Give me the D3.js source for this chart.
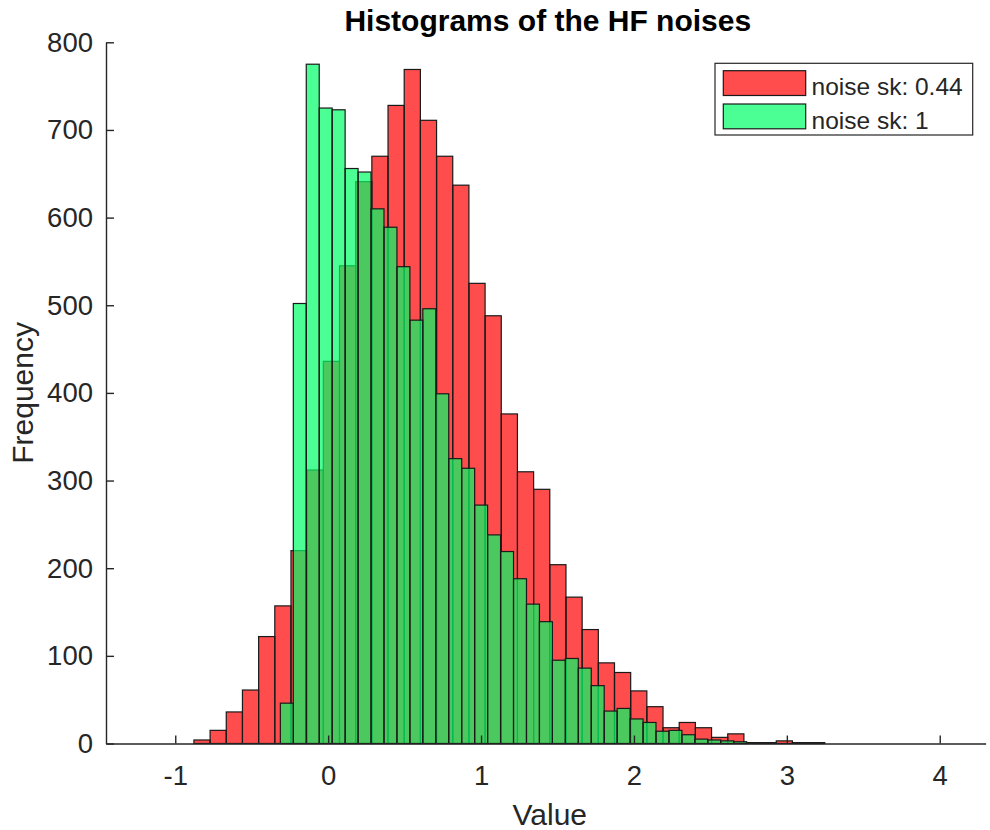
<!DOCTYPE html>
<html>
<head>
<meta charset="utf-8">
<script src="https://cdn.jsdelivr.net/npm/d3@7/dist/d3.min.js"></script>
<style>
  html, body { margin: 0; padding: 0; background: #fff; }
  svg { display: block; font-family: "Liberation Sans", Arial, Helvetica, sans-serif; }
</style>
</head>
<body>
<svg id="chart" width="990" height="830"></svg>
<script>
// Histogram of noise with skewness 0.44 (red) — uniform bins
const redBinStart = -0.878;
const redBinWidth = 0.1058;
const redCounts = [4, 15, 36, 61, 122, 157, 220, 312, 436, 545, 641, 670, 728, 769, 711,
  670, 637, 525, 488, 376, 310, 290, 204, 167, 130, 92, 81, 60, 42, 18, 24, 18, 7, 11,
  1, 1, 3, 1, 1];

// Histogram of noise with skewness 1 (green)
const greenBinStart = -0.3126;
const greenBinWidth = 0.08472;
const greenCounts = [46, 502, 775, 725, 723, 656, 652, 610, 589, 544, 483, 496, 399, 325,
  314, 272, 238, 219, 188, 159, 139, 95, 97, 86, 66, 37, 40, 28, 24, 14, 15, 10, 5, 4, 3, 2];

const seriesNames = ["noise sk: 0.44", "noise sk: 1"];
const xTicks = [-1, 0, 1, 2, 3, 4];
const yTicks = [0, 100, 200, 300, 400, 500, 600, 700, 800];
const xDomain = [-1.453, 4.3];
const yDomain = [0, 800];

const svg = d3.select("#chart");
const plot = { left: 106, right: 985.6, top: 42.3, bottom: 743.5 };
const axisColor = "#262626";

const x = d3.scaleLinear().domain(xDomain).range([plot.left, plot.right]);
const y = d3.scaleLinear().domain(yDomain).range([plot.bottom, plot.top]);

function bins(start, width, counts) {
  return counts.map((c, i) => ({ x0: start + i * width, x1: start + (i + 1) * width, count: c }));
}

const series = [
  { name: seriesNames[0], color: "rgb(255,0,0)", data: bins(redBinStart, redBinWidth, redCounts) },
  { name: seriesNames[1], color: "rgb(0,255,102)", data: bins(greenBinStart, greenBinWidth, greenCounts) }
];
const faceAlpha = 0.7;

const barsG = svg.append("g");
series.forEach(s => {
  const g = barsG.append("g");
  // faces
  g.append("g").selectAll("rect").data(s.data).join("rect")
    .attr("x", d => x(d.x0))
    .attr("y", d => y(d.count))
    .attr("width", d => x(d.x1) - x(d.x0))
    .attr("height", d => y(0) - y(d.count))
    .attr("fill", s.color)
    .attr("fill-opacity", faceAlpha);
  // edges
  g.append("g").selectAll("rect").data(s.data).join("rect")
    .attr("x", d => x(d.x0))
    .attr("y", d => y(d.count))
    .attr("width", d => x(d.x1) - x(d.x0))
    .attr("height", d => y(0) - y(d.count))
    .attr("fill", "none")
    .attr("stroke", "#1a1a1a")
    .attr("stroke-width", 1.2);
});

// Axes with inward ticks
const tickFont = 27.5;
const xAxis = d3.axisBottom(x).tickValues(xTicks).tickSizeInner(-8).tickSizeOuter(0)
  .tickPadding(21.5).tickFormat(d3.format("d"));
const yAxis = d3.axisLeft(y).tickValues(yTicks).tickSizeInner(-8).tickSizeOuter(0)
  .tickPadding(13).tickFormat(d3.format("d"));

const gx = svg.append("g").attr("transform", `translate(0,${plot.bottom})`).call(xAxis);
const gy = svg.append("g").attr("transform", `translate(${plot.left},0)`).call(yAxis);
[gx, gy].forEach(g => {
  g.attr("font-family", null).attr("font-size", null);
  g.select(".domain").attr("stroke", axisColor).attr("stroke-width", 1.4);
  g.selectAll(".tick line").attr("stroke", axisColor).attr("stroke-width", 1.4);
  g.selectAll(".tick text").attr("fill", axisColor).style("font-size", tickFont + "px");
});
gx.selectAll(".tick text").text(d => d < 0 ? "-" + Math.abs(d) : d);

// Title and axis labels
svg.append("text")
  .attr("x", (plot.left + plot.right) / 2 + 2).attr("y", 31)
  .attr("text-anchor", "middle")
  .style("font-size", "30px").style("font-weight", "bold").attr("fill", "#000")
  .text("Histograms of the HF noises");

svg.append("text")
  .attr("x", (plot.left + plot.right) / 2 + 4).attr("y", 825)
  .attr("text-anchor", "middle")
  .style("font-size", "30px").attr("fill", axisColor)
  .text("Value");

svg.append("text")
  .attr("transform", `translate(33,${(plot.top + plot.bottom) / 2}) rotate(-90)`)
  .attr("text-anchor", "middle")
  .style("font-size", "30px").attr("fill", axisColor)
  .text("Frequency");

// Legend
const legend = svg.append("g");
legend.append("rect")
  .attr("x", 715).attr("y", 63.3).attr("width", 257.7).attr("height", 71.7)
  .attr("fill", "#fff").attr("stroke", axisColor).attr("stroke-width", 1.2);
series.forEach((s, i) => {
  const top = 70.7 + i * 33.3;
  legend.append("rect")
    .attr("x", 723.3).attr("y", top).attr("width", 82.4).attr("height", 24.8)
    .attr("fill", s.color).attr("fill-opacity", faceAlpha)
    .attr("stroke", "#1a1a1a").attr("stroke-width", 1.2);
  legend.append("text")
    .attr("x", 811.5).attr("y", top + 24.5)
    .style("font-size", "24.5px").attr("fill", axisColor)
    .text(s.name);
});
</script>
</body>
</html>
